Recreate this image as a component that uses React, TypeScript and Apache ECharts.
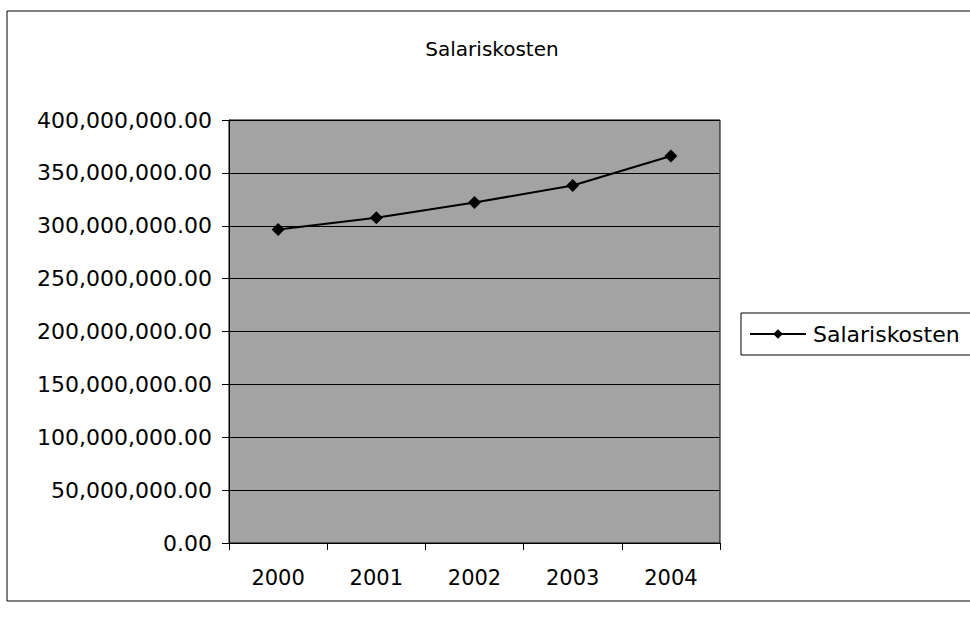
import React, { useEffect, useRef } from "react";
import * as echarts from "echarts";

const title = "Salariskosten";
const seriesName = "Salariskosten";
const years = ["2000", "2001", "2002", "2003", "2004"];
const salaryCosts = [296500000, 307500000, 322000000, 338000000, 366000000];
const yMin = 0;
const yMax = 400000000;
const yStep = 50000000;

function fmt(v: number): string {
  const parts = Math.round(v).toString().replace(/\B(?=(\d{3})+(?!\d))/g, ",");
  return parts + ".00";
}

export default function App() {
  const ref = useRef<HTMLDivElement>(null);
  useEffect(() => {
    if (!ref.current) return;
    const chart = echarts.init(ref.current, null, { renderer: "svg" });
    const font = "DejaVu Sans";
    chart.setOption({
      animation: false,
      backgroundColor: "#ffffff",
      textStyle: { fontFamily: font, color: "#000" },
      title: {
        text: title,
        left: 487,
        top: 34,
        textAlign: "center",
        textStyle: { fontFamily: font, fontSize: 20, fontWeight: "normal", color: "#000" },
      },
      graphic: [
        {
          type: "rect",
          shape: { x: 7, y: 11, width: 990, height: 590 },
          style: { fill: "none", stroke: "#000", lineWidth: 1 },
          silent: true,
        },
      ],
      legend: {
        left: 741,
        top: 313,
        orient: "vertical",
        data: [seriesName],
        borderColor: "#000",
        borderWidth: 1,
        padding: [10, 40, 10, 8],
        itemWidth: 56,
        itemHeight: 12,
        itemGap: 0,
        textStyle: { fontFamily: font, fontSize: 22, color: "#000", padding: [0, 0, 0, 2] },
      },
      grid: {
        left: 229,
        top: 120,
        width: 491,
        height: 423,
        show: true,
        backgroundColor: "#a3a3a3",
        borderColor: "#000",
        borderWidth: 1,
      },
      xAxis: {
        type: "category",
        data: years,
        boundaryGap: true,
        axisLine: { show: true, lineStyle: { color: "#000", width: 1 } },
        axisTick: { show: true, length: 7, alignWithLabel: false, lineStyle: { color: "#000" } },
        axisLabel: { fontFamily: font, fontSize: 21, color: "#000", margin: 24 },
        splitLine: { show: false },
      },
      yAxis: {
        type: "value",
        min: yMin,
        max: yMax,
        interval: yStep,
        axisLine: { show: true, lineStyle: { color: "#000", width: 1 } },
        axisTick: { show: true, length: 7, lineStyle: { color: "#000" } },
        axisLabel: {
          fontFamily: font,
          fontSize: 22,
          color: "#000",
          margin: 17,
          formatter: (v: number) => fmt(v),
        },
        splitLine: { show: true, lineStyle: { color: "#000", width: 1 } },
      },
      series: [
        {
          name: seriesName,
          type: "line",
          data: salaryCosts,
          symbol: "diamond",
          symbolSize: 13,
          lineStyle: { color: "#000", width: 2 },
          itemStyle: { color: "#000" },
        },
      ],
    });
    return () => chart.dispose();
  }, []);
  return (
    <div
      ref={ref}
      style={{ position: "fixed", left: 0, top: 0, width: 970, height: 620 }}
    />
  );
}
